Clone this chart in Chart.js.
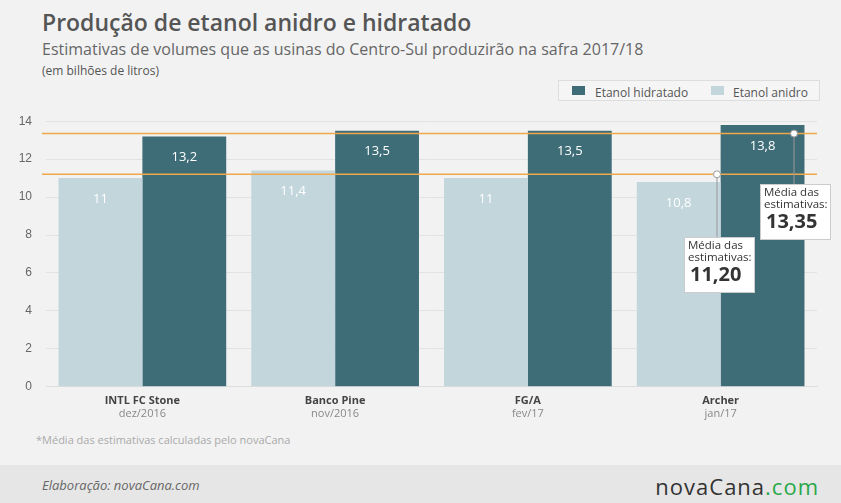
<!DOCTYPE html>
<html><head><meta charset="utf-8">
<script src="https://cdn.jsdelivr.net/npm/chart.js@4"></script>
<style>
body{margin:0;width:841px;height:503px;background:#f2f2f2;font-family:"Open Sans",sans-serif;position:relative;overflow:hidden}
#t{position:absolute;left:42px;top:6px;font-size:23px;color:#555;font-weight:600}
#s{position:absolute;left:42px;top:38px;font-size:16px;color:#666}
#u{position:absolute;left:42px;top:62px;font-size:12px;color:#555}
#lg{position:absolute;left:558px;top:80px;width:262px;height:21px;border:1px solid #ddd;background:#f5f5f5;font-size:12px;color:#555;box-sizing:border-box}
#lg span{position:absolute;top:3px}
#lg i{position:absolute;top:5px;width:13px;height:9px}
#n{position:absolute;left:36px;top:432px;font-size:11px;color:#aaa}
#f{position:absolute;left:0;top:465px;width:841px;height:38px;background:#e6e6e6}
#f .a{position:absolute;left:42px;top:11px;font-size:13px;color:#666;font-style:italic}
#f .b{position:absolute;right:22px;top:6px;font-size:22px;color:#333;letter-spacing:1px}
#c{position:absolute;left:0;top:100px}
</style></head><body>
<div id="t">Produção de etanol anidro e hidratado</div>
<div id="s">Estimativas de volumes que as usinas do Centro-Sul produzirão na safra 2017/18</div>
<div id="u">(em bilhões de litros)</div>
<div id="lg"><i style="left:13px;background:#3e6d78"></i><span style="left:36px">Etanol hidratado</span><i style="left:152px;background:#c2d6dc"></i><span style="left:174px">Etanol anidro</span></div>
<canvas id="c" width="841" height="320"></canvas>
<div id="n">*Média das estimativas calculadas pelo novaCana</div>
<div id="f"><span class="a">Elaboração: novaCana.com</span><span class="b">novaCana<span style="color:#2aa84a">.com</span></span></div>
<script>
const categories=["INTL FC Stone","Banco Pine","FG/A","Archer"];
const dates=["dez/2016","nov/2016","fev/17","jan/17"];
const anidro=[11,11.4,11,10.8];
const hidratado=[13.2,13.5,13.5,13.8];
const avgAnidro=11.20, avgHidratado=13.35;
const fmt=v=>String(v).replace('.',',');
const plug={id:'p',afterDatasetsDraw(ch){
 const c=ch.ctx,x=ch.scales.x,y=ch.scales.y;
 c.save();
 ch.data.datasets.forEach((d,i)=>{ch.getDatasetMeta(i).data.forEach((b,j)=>{
  c.fillStyle='#fff';c.font='13px "Open Sans"';c.textAlign='center';c.textBaseline='middle';
  c.fillText(fmt(d.data[j]),b.x,b.y+21);});});
 c.strokeStyle='#f0a848';c.lineWidth=1.5;
 [avgAnidro,avgHidratado].forEach(v=>{const py=y.getPixelForValue(v);c.beginPath();c.moveTo(42,py);c.lineTo(x.right,py);c.stroke();});
 const box=(px,v,bx,by)=>{const py=y.getPixelForValue(v);
  c.strokeStyle='#999';c.lineWidth=1;c.beginPath();c.moveTo(px,py);c.lineTo(px,by);c.stroke();
  c.fillStyle='#fff';c.fillRect(bx,by,70,55);c.strokeStyle='#ccc';c.strokeRect(bx+.5,by+.5,70,55);
  c.fillStyle='#333';c.textAlign='left';c.textBaseline='top';c.font='11.5px "Open Sans"';
  c.fillText('Média das',bx+4,by+3);c.fillText('estimativas:',bx+4,by+15);
  c.font='bold 20px "Open Sans"';c.fillText(fmt(v.toFixed(2)),bx+6,by+28);
  c.beginPath();c.arc(px,py,3.5,0,7);c.fillStyle='#fff';c.fill();c.strokeStyle='#999';c.stroke();};
 box(717,avgAnidro,684,137);box(794,avgHidratado,760,84);
 c.fillStyle='#888';c.font='11px "Open Sans"';c.textAlign='center';c.textBaseline='middle';
 categories.forEach((k,i)=>c.fillText(dates[i],x.getPixelForValue(i),y.bottom+27));
 c.restore();}};
new Chart(document.getElementById('c'),{type:'bar',
 data:{labels:categories,datasets:[
  {label:'Etanol anidro',data:anidro,backgroundColor:'#c2d6dc'},
  {label:'Etanol hidratado',data:hidratado,backgroundColor:'#3e6d78'}]},
 options:{responsive:false,animation:false,
  layout:{padding:{left:0,right:24,top:10,bottom:14}},
  plugins:{legend:{display:false},tooltip:{enabled:false}},
  datasets:{bar:{categoryPercentage:0.87,barPercentage:1}},
  scales:{
   x:{grid:{display:false},border:{color:'#ddd'},ticks:{color:'#444',font:{size:11,weight:'bold',family:'"Open Sans"'},padding:-1}},
   y:{min:0,max:14,ticks:{stepSize:2,color:'#666',font:{size:12},padding:14},grid:{color:'#e2e2e2',drawTicks:false},border:{display:false},afterFit(s){s.width=46;}}}},
 plugins:[plug]});
</script></body></html>
